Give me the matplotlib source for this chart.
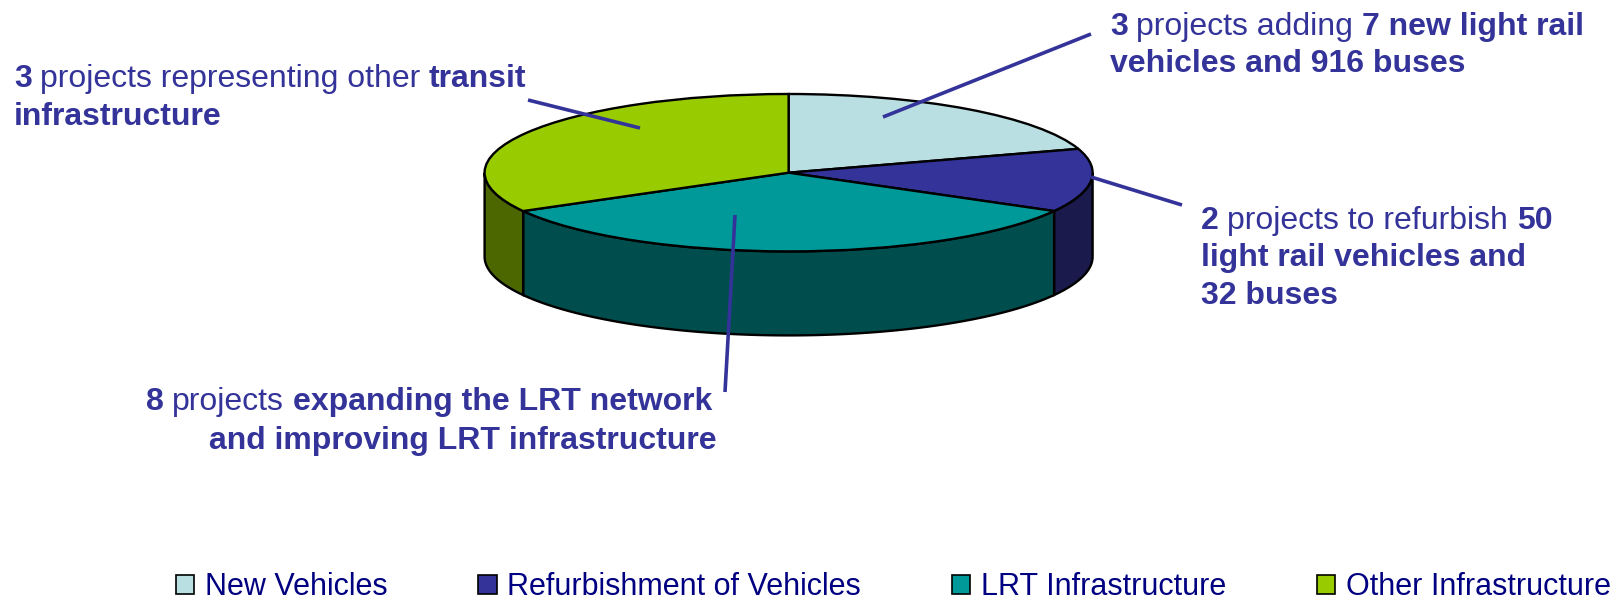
"""Transit projects by type, drawn as a tilted 3D style pie."""
import numpy as np
import matplotlib
matplotlib.use('Agg')
import matplotlib.pyplot as plt
from matplotlib.patches import Patch

plt.rcParams['font.family'] = ['Liberation Sans', 'DejaVu Sans']

# Data
categories = ['New Vehicles', 'Refurbishment of Vehicles', 'LRT Infrastructure', 'Other Infrastructure']
shares = [20.1, 13.0, 33.8, 33.1]

top_colors = ['#B9DFE2', '#333399', '#009999', '#99CC00']
side_colors = ['#5C7071', '#1A1A4D', '#004D4D', '#4C6600']

# Callouts: (x, baseline y, [(text, bold), ...]) in pixels
callouts = [
    (14, 87, [('3', True), ('projects representing other', False), ('transit', True)]),
    (14, 125, [('infrastructure', True)]),
    (1110, 35, [('3', True), ('projects adding', False), ('7 new light rail', True)]),
    (1110, 72, [('vehicles and 916 buses', True)]),
    (1201, 229, [('2', True), ('projects to refurbish', False), ('50', True)]),
    (1201, 266, [('light rail vehicles and', True)]),
    (1201, 304, [('32 buses', True)]),
    (146, 410, [('8', True), ('projects', False), ('expanding the LRT network', True)]),
    (209, 449, [('and improving LRT infrastructure', True)]),
]
leaders = [
    ((1091, 34), (883, 117)),
    ((1182, 205), (1091, 177)),
    ((725, 392), (735, 215)),
    ((528, 100), (640, 128)),
]

TEXT_COLOR = '#333399'
FONT_SIZE = 23
LEGEND_SIZE = 22
WORD_GAP = 8.5


def draw_sides(ax, depth):
    """Draw the visible rim below the front half of the pie."""
    edges = np.cumsum([0] + shares) / sum(shares) * 360
    for i in range(len(shares)):
        start = max(edges[i], 90)
        end = min(edges[i + 1], 270)
        if start >= end:
            continue
        a = np.radians(np.linspace(start, end, 120))
        x = np.sin(a)
        y = np.cos(a)
        ax.fill(np.r_[x, x[::-1]], np.r_[y, y[::-1] - depth],
                facecolor=side_colors[i], edgecolor='black', linewidth=1.7,
                clip_on=False, zorder=1)


def draw_runs(ax, renderer, x, y, runs):
    """Place a line of mixed regular and bold words one after the other."""
    for text, bold in runs:
        t = ax.text(x, y, text, color=TEXT_COLOR, fontsize=FONT_SIZE, va='baseline',
                    fontweight='bold' if bold else 'normal')
        x += t.get_window_extent(renderer).width + WORD_GAP


def main():
    fig = plt.figure(figsize=(16.18, 6), dpi=100)

    # Pie axes cover exactly the top ellipse
    ax = fig.add_axes([484.6 / 1618, (600 - 251.4) / 600, 608 / 1618, 157.4 / 600])
    wedges, _ = ax.pie(shares, colors=top_colors, startangle=90, counterclock=False, radius=1,
                       wedgeprops={'edgecolor': 'black', 'linewidth': 1.7, 'zorder': 2})
    ax.set_aspect('auto')
    ax.set_xlim(-1, 1)
    ax.set_ylim(-1, 1)
    for w in wedges:
        w.set_clip_on(False)
    draw_sides(ax, 84 / 78.7)

    # Overlay in pixel coordinates for the callouts
    overlay = fig.add_axes([0, 0, 1, 1], zorder=5)
    overlay.set_xlim(0, 1618)
    overlay.set_ylim(600, 0)
    overlay.axis('off')

    for p0, p1 in leaders:
        overlay.plot([p0[0], p1[0]], [p0[1], p1[1]], color=TEXT_COLOR, linewidth=2.6,
                     solid_capstyle='butt')

    renderer = fig.canvas.get_renderer()
    for x, y, runs in callouts:
        draw_runs(overlay, renderer, x, y, runs)

    handles = [Patch(facecolor=c, edgecolor='black', linewidth=1.2) for c in top_colors]
    fig.legend(handles, categories, ncols=4, frameon=False, fontsize=LEGEND_SIZE,
               labelcolor='#000080', loc='lower right', bbox_to_anchor=(0.9957, -0.004),
               borderaxespad=0, borderpad=0, handlelength=0.6, handleheight=0.6,
               handletextpad=0.35, columnspacing=2.97)

    fig.savefig('out.png', dpi=100, facecolor='white')
    plt.close(fig)


if __name__ == "__main__":
    main()
